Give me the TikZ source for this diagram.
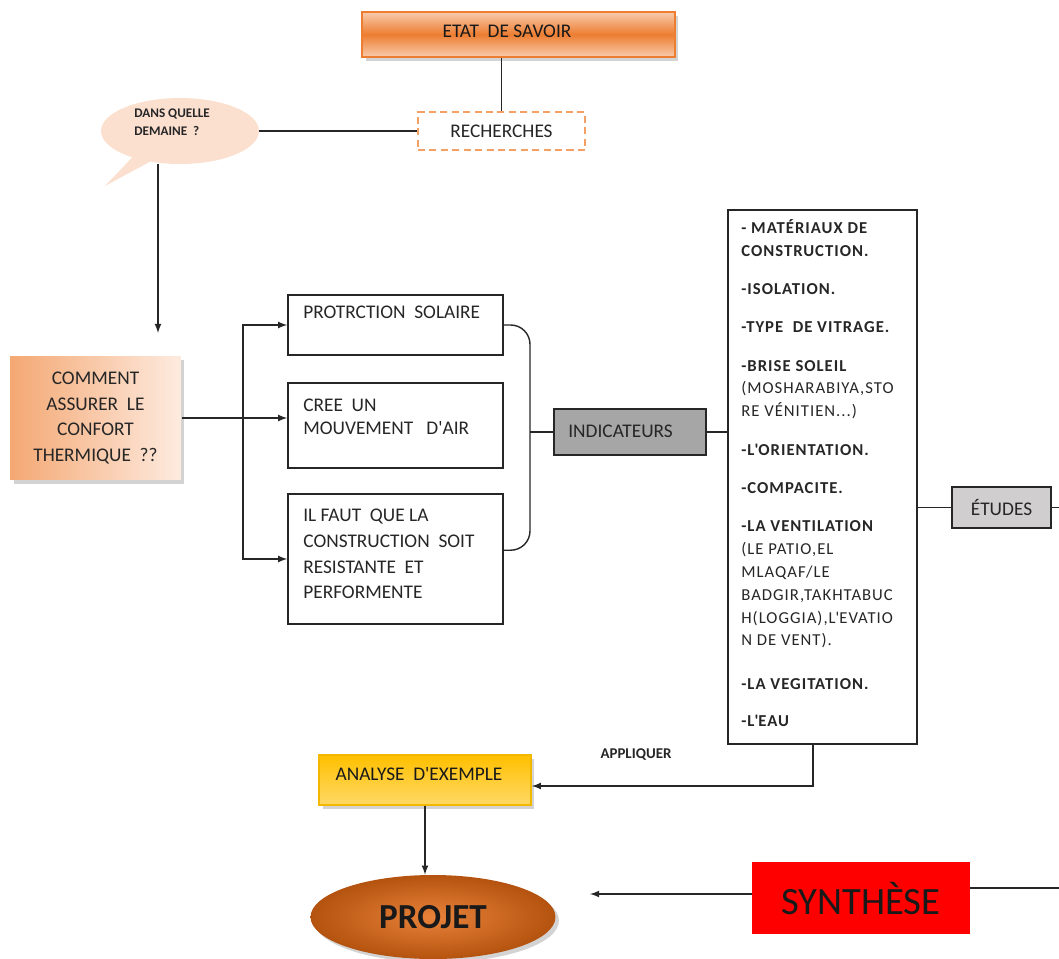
\documentclass[tikz,border=0pt]{standalone}
\usepackage{fontspec}
\setmainfont{Carlito}
\usepackage{tikz}
\tikzset{>=latex}
\usetikzlibrary{calc,positioning,shapes.geometric,shapes.callouts,shadows}

\definecolor{orangefonce}{HTML}{ED7D31}
\definecolor{orangeclair}{HTML}{F8CBAD}
\definecolor{orangemoyen}{HTML}{F4A873}
\definecolor{orangepale}{HTML}{FDEBE0}
\definecolor{bulle}{HTML}{FBE0D0}
\definecolor{orangetiret}{HTML}{F4A064}
\definecolor{gris}{HTML}{A6A6A6}
\definecolor{grisclair}{HTML}{D0CECE}
\definecolor{jaune}{HTML}{FFC000}
\definecolor{jauneclair}{HTML}{FFD966}
\definecolor{jaunefonce}{HTML}{F2B800}
\definecolor{orangeprojet}{HTML}{E8823A}
\definecolor{brunprojet}{HTML}{B4530F}

\tikzset{
    trait/.style={line width=0.8pt, black!85},
    boite/.style={draw=black!85, line width=1pt, rectangle, inner sep=0pt, text=black!85, font=\fontsize{11}{13}\selectfont},
    texte/.style={font=\fontsize{11}{14.7}\selectfont, text=black!85, align=left, inner sep=0pt},
    ombre/.style={drop shadow={shadow xshift=2pt, shadow yshift=-2pt, opacity=0.35}}
}

\begin{document}
\begin{tikzpicture}[x=0.02cm, y=-0.02cm]
                \useasboundingbox (0,0) rectangle (1059,958);

                \node[boite, ombre, draw=orangefonce, top color=orangeclair, bottom color=orangeclair, middle color=orangefonce, minimum width=6.26cm, minimum height=0.9cm] (etat) at (518.5,34.5) {};
                \node[texte, text=black!90] (etattxt) at (507,31) {ETAT~ DE SAVOIR};
                \node[boite, draw=orangetiret, dash pattern=on 4pt off 2.5pt, minimum width=3.34cm, minimum height=0.76cm] (rech) at (501.5,131) {RECHERCHES};
                \node[ellipse callout, fill=bulle, minimum width=3.16cm, minimum height=1.32cm, callout absolute pointer={(105,186)}] (bulle) at (180,131) {};
                \node[texte, font=\bfseries\fontsize{7.5}{10.2}\selectfont, anchor=west] (bulletxt) at (134,122) {DANS QUELLE\\DEMAINE~ ?};
                \coordinate (pointe) at (158,333);
                \draw[trait] (etat.south -| rech.north) -- (rech.north);
                \draw[trait] (bulle.east) -- (rech.west);
                \draw[trait, ->] (bulle.south -| pointe) -- (pointe);

                \node[boite, ombre, draw=none, left color=orangemoyen, right color=orangepale, minimum width=3.42cm, minimum height=2.48cm, align=center, font=\fontsize{11}{14.7}\selectfont] (comment) at (95.5,418) {COMMENT\\ASSURER~ LE\\CONFORT\\THERMIQUE~ ??};

                \node[boite, minimum width=4.3cm, minimum height=1.2cm] (prot) at (395.5,325) {};
                \node[boite, minimum width=4.3cm, minimum height=1.7cm] (cree) at (395.5,425.5) {};
                \node[boite, minimum width=4.3cm, minimum height=2.6cm] (ilfaut) at (395.5,559) {};
                \node[texte, anchor=west] (prottxt) at (303,312) {PROTRCTION~ SOLAIRE};
                \node[texte, font=\fontsize{11}{13}\selectfont, anchor=west] (creetxt) at (303,416.5) {CREE~ UN\\MOUVEMENT~~ D\textquotesingle AIR};
                \node[texte, anchor=west] (ilfauttxt) at (303,554) {IL FAUT~ QUE LA\\CONSTRUCTION~ SOIT\\RESISTANTE~ ET\\PERFORMENTE};

                \coordinate (noeud) at (243,418);
                \draw[trait, ->] (comment.east) -- (comment.east -| cree.west);
                \draw[trait, ->] (noeud) |- (prot.west);
                \draw[trait, ->] (noeud) |- (ilfaut.west);

                \coordinate (accolade) at (530,432);
                \draw[trait, rounded corners=11pt] (prot.east) -| (accolade) |- ([yshift=5pt]ilfaut.east);

                \node[boite, fill=gris, minimum width=3.04cm, minimum height=0.92cm] (indic) at (630,432) {};
                \node[texte, anchor=west] (indictxt) at (568,431) {INDICATEURS};
                \draw[trait] (accolade) -- (indic.west);
                \node[boite, minimum width=3.78cm, minimum height=10.68cm] (liste) at (822.5,477) {};
                \draw[trait] (indic.east) -- (indic.east -| liste.west);
                \node[texte, font=\fontsize{9.5}{13}\selectfont\addfontfeatures{LetterSpace=6}, anchor=north west] (listetxt) at (741,219) {%
                    \textbf{- MATÉRIAUX DE}\\
                    \textbf{CONSTRUCTION.}\\[8.8pt]
                    \textbf{-ISOLATION.}\\[8.8pt]
                    \textbf{-TYPE~ DE VITRAGE.}\\[8.8pt]
                    \textbf{-BRISE SOLEIL}\\
                    (MOSHARABIYA,STO\\
                    RE VÉNITIEN...)\\[8.8pt]
                    \textbf{-L\textquotesingle ORIENTATION.}\\[8.8pt]
                    \textbf{-COMPACITE.}\\[8.8pt]
                    \textbf{-LA VENTILATION}\\
                    (LE PATIO,EL\\
                    MLAQAF/LE\\
                    BADGIR,TAKHTABUC\\
                    H(LOGGIA),L\textquotesingle EVATIO\\
                    N DE VENT).\\[12pt]
                    \textbf{-LA VEGITATION.}\\[8pt]
                    \textbf{-L\textquotesingle EAU}};

                \node[boite, fill=grisclair, minimum width=1.98cm, minimum height=0.82cm] (etudes) at (1001.5,507.5) {ÉTUDES};
                \coordinate (bordE) at (1059,507.5);
                \draw[trait] (etudes.west -| liste.east) -- (etudes.west);
                \draw[trait] (etudes.east) -- (bordE);

                \node[boite, ombre, draw=jaunefonce, top color=jaune, bottom color=jauneclair, minimum width=4.24cm, minimum height=1cm] (analyse) at (425,780) {};
                \node[texte, text=black!90] (analysetxt) at (419,774) {ANALYSE~ D\textquotesingle EXEMPLE};
                \coordinate (coude) at (813,786);
                \draw[trait, ->] (liste.south -| coude) |- (analyse.east |- coude);
                \node[texte, font=\bfseries\fontsize{8.5}{10}\selectfont] (appliquer) at (636,755) {APPLIQUER};

                \node[ellipse, ombre, inner color=orangeprojet, outer color=brunprojet, minimum width=4.9cm, minimum height=1.68cm, text=black!90, font=\bfseries\fontsize{20}{24}\selectfont] (projet) at (433,917) {PROJET};
                \draw[trait, ->] (analyse.south) -- (analyse.south |- projet.north);

                \node[rectangle, fill=red, minimum width=4.36cm, minimum height=1.44cm, text=black!90, font=\fontsize{22}{26}\selectfont] (synthese) at (861,898) {SYNTHÈSE};
                \coordinate (pointeP) at (590,894);
                \coordinate (bordS) at (1059,888);
                \draw[trait, ->] (synthese.west |- pointeP) -- (pointeP);
                \draw[trait] (synthese.east |- bordS) -- (bordS);
\end{tikzpicture}
\end{document}
